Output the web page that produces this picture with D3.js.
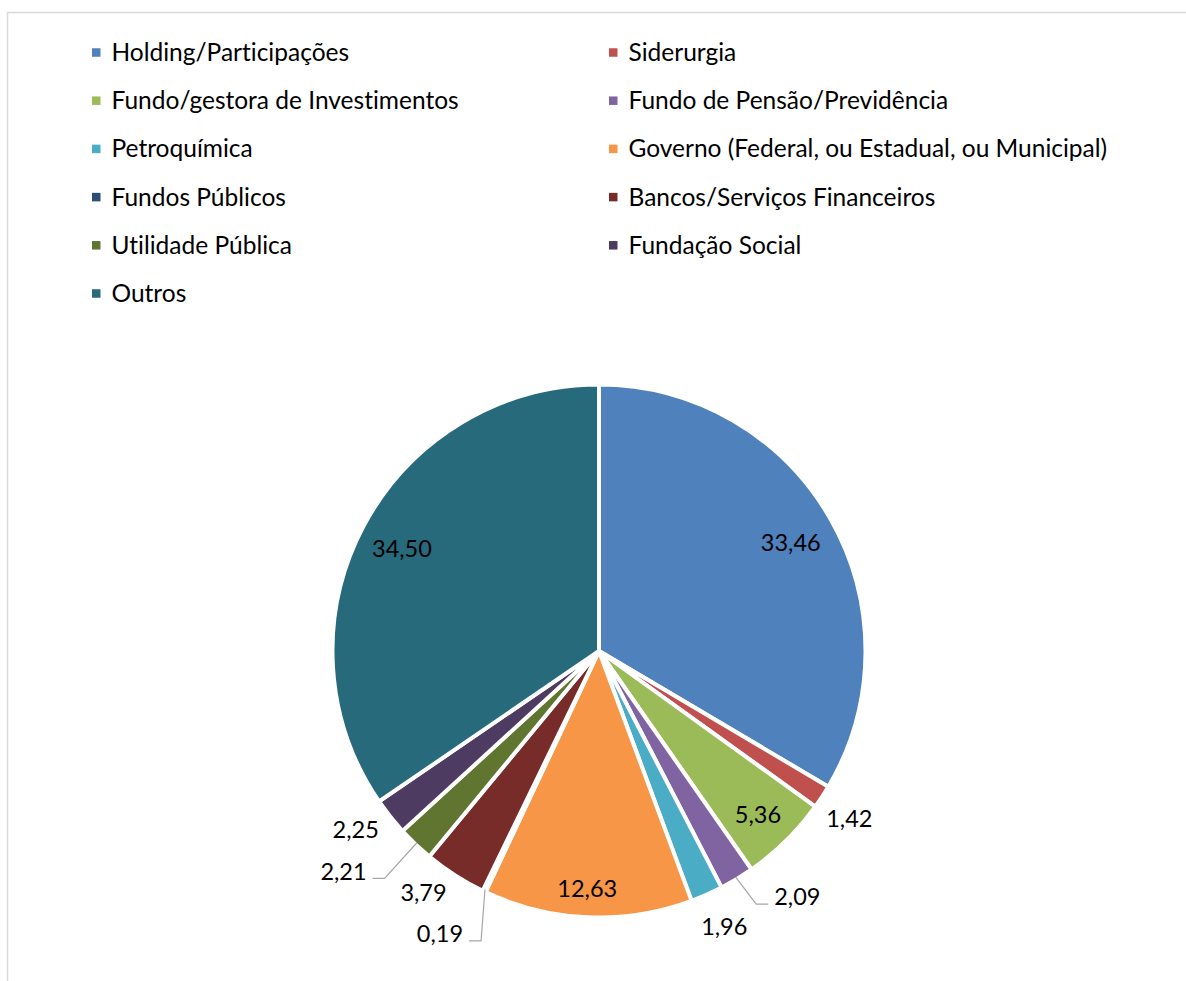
<!DOCTYPE html>
<html>
<head>
<meta charset="utf-8">
<script src="https://cdn.jsdelivr.net/npm/d3@7"></script>
<style>
  html, body { margin: 0; padding: 0; background: #ffffff; }
  svg { display: block; }
  text { font-family: Lato, "Open Sans", sans-serif; fill: #000000; font-variant-ligatures: none; font-feature-settings: "liga" 0, "clig" 0; }
</style>
</head>
<body>
<svg id="chart" width="1186" height="981"></svg>
<script>
// Shareholder composition by sector (%)
const categories = [
  "Holding/Participações",
  "Siderurgia",
  "Fundo/gestora de Investimentos",
  "Fundo de Pensão/Previdência",
  "Petroquímica",
  "Governo (Federal, ou Estadual, ou Municipal)",
  "Fundos Públicos",
  "Bancos/Serviços Financeiros",
  "Utilidade Pública",
  "Fundação Social",
  "Outros"
];
const values = [33.46, 1.42, 5.36, 2.09, 1.96, 12.63, 0.19, 3.79, 2.21, 2.25, 34.50];
const colors = [
  "#4F81BD", "#C0504D", "#9BBB59", "#8064A2", "#4BACC6", "#F79646",
  "#2C4D75", "#772C2A", "#5F7530", "#4D3B62", "#276A7C"
];

// Label placement per slice: radius as a fraction of the pie radius,
// angular nudge in degrees, and whether a leader line is drawn.
const labelRadius = [0.826, 1.13, 0.857, 1.186, 1.135, 0.894, 1.218, 1.12, 1.266, 1.132, 0.833];
const labelNudge  = [0.3, 0.6, 0.5, -7.7, -0.6, 0.4, 3.8, 3.3, 5.7, 2.2, -0.4];
const labelLeader = [false, false, false, true, false, false, true, false, true, false, false];

const legendFont = 24.5;
const labelFont = 23.5;
const svg = d3.select("#chart");

// Chart area border (open to the right and bottom)
svg.append("path")
  .attr("d", "M7.5,981 L7.5,12.5 L1186,12.5")
  .attr("fill", "none")
  .attr("stroke", "#d9d9d9")
  .attr("stroke-width", 1.5);

// ---- Legend ----
const legendCols = d3.scaleOrdinal().domain([0, 1]).range([92, 609]);
const legendRow = d3.scaleLinear().domain([0, 1]).range([52.5, 100.7]);
const marker = 8.5;

const legend = svg.append("g").attr("class", "legend");
const items = legend.selectAll("g.item")
  .data(categories.map((c, i) => ({ name: c, color: colors[i], i })))
  .join("g")
  .attr("class", "item")
  .attr("transform", d => `translate(${legendCols(d.i % 2)},${legendRow(Math.floor(d.i / 2))})`);

items.append("rect")
  .attr("x", 0)
  .attr("y", -marker / 2)
  .attr("width", marker)
  .attr("height", marker)
  .attr("fill", d => d.color);

items.append("text")
  .attr("x", 19.5)
  .attr("y", 0)
  .attr("dy", "0.35em")
  .attr("font-size", legendFont)
  .text(d => d.name);

// ---- Pie ----
const cx = 599, cy = 651, R = 266.5;
const pieG = svg.append("g").attr("transform", `translate(${cx},${cy})`);

const pie = d3.pie().sort(null).value(d => d);
const arcs = pie(values);
const arc = d3.arc().innerRadius(0).outerRadius(R);

pieG.selectAll("path.slice")
  .data(arcs)
  .join("path")
  .attr("class", "slice")
  .attr("d", arc)
  .attr("fill", (d, i) => colors[i])
  .attr("stroke", "#ffffff")
  .attr("stroke-width", 4)
  .attr("stroke-linejoin", "miter");

// ---- Data labels ----
const ptFormat = d3.formatLocale({ decimal: ",", thousands: ".", grouping: [3], currency: ["", ""] }).format(".2f");

function polar(angle, r) {
  return [Math.sin(angle) * r, -Math.cos(angle) * r];
}

const labels = pieG.selectAll("g.lbl")
  .data(arcs)
  .join("g")
  .attr("class", "lbl");

labels.each(function (d, i) {
  const g = d3.select(this);
  const mid = (d.startAngle + d.endAngle) / 2;
  const a = mid + labelNudge[i] * Math.PI / 180;
  const [lx, ly] = polar(a, R * labelRadius[i]);
  const t = g.append("text")
    .attr("x", lx)
    .attr("y", ly)
    .attr("dy", "0.35em")
    .attr("text-anchor", "middle")
    .attr("font-size", labelFont)
    .text(ptFormat(d.value));

  if (labelLeader[i]) {
    const w = t.node().getComputedTextLength();
    const [sx, sy] = polar(mid, R - 2);
    const right = lx > 0;
    const edge = right ? lx - w / 2 : lx + w / 2;
    const dir = right ? -1 : 1;
    const yLine = ly + 7;
    const pts = [[sx, sy], [edge + dir * 18, yLine], [edge + dir * 6, yLine]];
    g.insert("path", "text")
      .attr("d", d3.line()(pts))
      .attr("fill", "none")
      .attr("stroke", "#a6a6a6")
      .attr("stroke-width", 1.2);
  }
});
</script>
</body>
</html>
